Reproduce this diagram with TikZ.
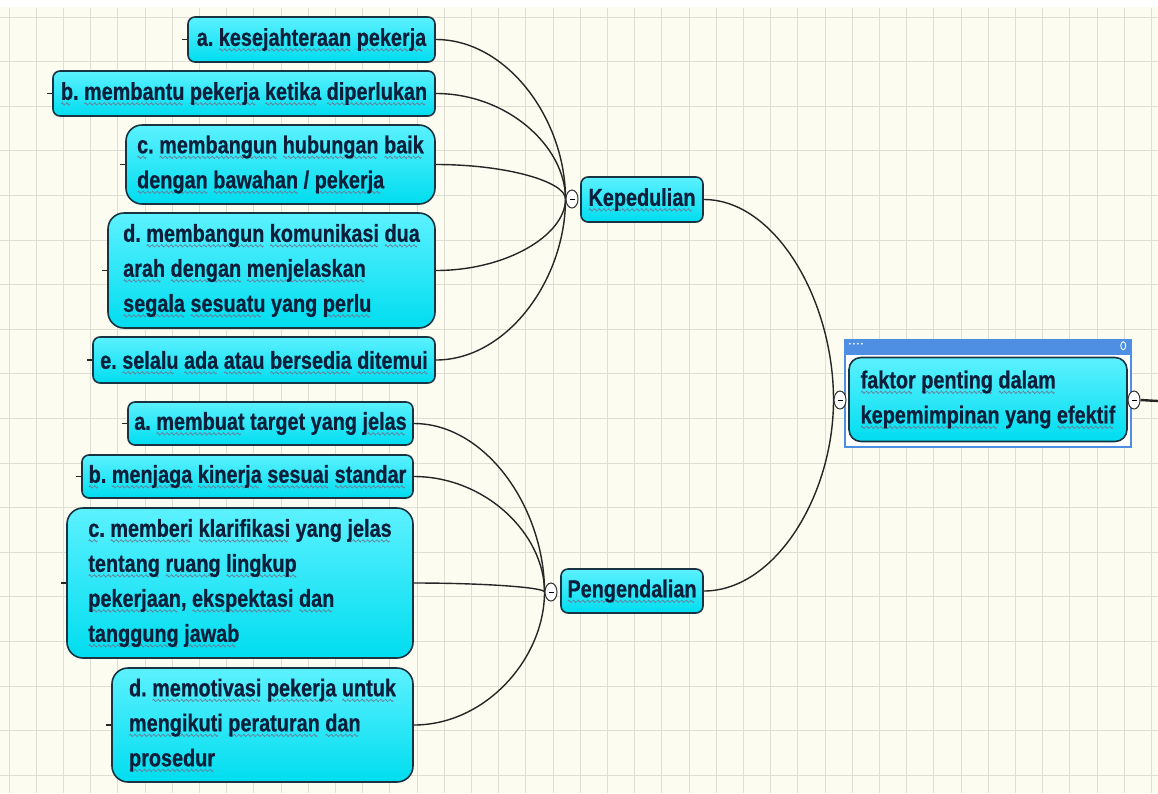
\documentclass[tikz,border=0pt]{standalone}
\usepackage{fontspec}
\usetikzlibrary{calc,shapes.geometric}
\newfontfamily\mapfont{Liberation Sans}[FakeStretch=0.81,FakeBold=0.6]
\definecolor{paper}{HTML}{FCFCF0}
\definecolor{gridline}{HTML}{DEDED2}
\definecolor{boxedge}{HTML}{183443}
\definecolor{boxtop}{HTML}{5CF1FF}
\definecolor{boxbot}{HTML}{00DDEF}
\definecolor{ink}{HTML}{0B1E3A}
\definecolor{sqcol}{HTML}{6A7B95}
\definecolor{selblue}{HTML}{4F8FE3}
% spell-check style wavy underline, built from a repeated wave piece
\newsavebox\wavebox
\newcommand\sq[1]{\setbox0\hbox{#1}\rlap{\raisebox{-6pt}[0pt][0pt]{\leaders\copy\wavebox\hskip\wd0}}\box0\relax}
% curved link from a topic's right side into a knob
\newcommand\branch[2]{\draw[conn] let \p1=(#1.east), \p2=(#2.west) in
  (\p1) .. controls (\x1+0.55*\x2-0.55*\x1, \y1) and (\x2, 0.5*\y1+0.5*\y2) .. (\p2);}
\pgfdeclarelayer{grid}
\pgfdeclarelayer{links}
\pgfsetlayers{grid,links,main}
\tikzset{
  topic/.style={draw=boxedge, line width=1.6pt, rounded corners=7pt,
    top color=boxtop, bottom color=boxbot, text=ink, align=left, inner sep=0pt,
    font=\mapfont\bfseries\fontsize{24.5}{35}\selectfont\frenchspacing},
  tall/.style={rounded corners=16pt},
  knob/.style={ellipse, draw=black!80, fill=white, line width=1pt,
    minimum width=12pt, minimum height=18pt, inner sep=0pt},
  conn/.style={draw=black!85, line width=1.4pt},
}
\newcommand\knob[3]{\node[knob] (#1) at (#2,#3) {};
  \draw[line width=1pt] ($(#1.center)+(-2.5,0)$) -- ($(#1.center)+(2.5,0)$);}
\begin{document}
\sbox\wavebox{\begin{pgfpicture}\pgfsetlinewidth{0.7pt}\pgfsetstrokecolor{sqcol}%
  \pgfpathmoveto{\pgfpoint{0pt}{0pt}}%
  \pgfpathcurveto{\pgfpoint{0.5pt}{1.6pt}}{\pgfpoint{1.5pt}{1.6pt}}{\pgfpoint{2pt}{0pt}}%
  \pgfpathcurveto{\pgfpoint{2.5pt}{-1.6pt}}{\pgfpoint{3.5pt}{-1.6pt}}{\pgfpoint{4pt}{0pt}}%
  \pgfusepath{stroke}\end{pgfpicture}}%
\begin{tikzpicture}[x=1pt,y=-1pt]
\useasboundingbox (0,0) rectangle (1158,793);
\begin{pgfonlayer}{grid}
  \fill[paper] (0,0) rectangle (1158,793);
  \foreach \gx in {9,36.2,...,1158} \draw[gridline, line width=0.9pt] (\gx,8) -- (\gx,793);
  \foreach \gy in {17,61.6,...,793} \draw[gridline, line width=0.9pt] (0,\gy) -- (1158,\gy);
  \fill[white] (0,0) rectangle (1158,7);
\end{pgfonlayer}

% Kepedulian branch
\node[topic, minimum width=247, minimum height=45] (k1) at (311.5,39.5)
  {a. \sq{kesejahteraan} \sq{pekerja}};
\node[topic, minimum width=382, minimum height=45] (k2) at (244,93.5)
  {\sq{b}. \sq{membantu} \sq{pekerja} \sq{ketika} \sq{diperlukan}};
\node[topic, tall, minimum width=309, minimum height=79] (k3) at (280.5,164.5)
  {\sq{c}. \sq{membangun} \sq{hubungan} \sq{baik}\\ \sq{dengan} \sq{bawahan} / \sq{pekerja}};
\node[topic, tall, minimum width=327, minimum height=115] (k4) at (271.5,270.5)
  {d. \sq{membangun} \sq{komunikasi} \sq{dua}\\ \sq{arah} \sq{dengan} \sq{menjelaskan}\\ \sq{segala} \sq{sesuatu} yang \sq{perlu}};
\node[topic, minimum width=342, minimum height=46] (k5) at (264,360)
  {e. \sq{selalu} \sq{ada} \sq{atau} \sq{bersedia} \sq{ditemui}};
\node[topic, minimum width=122, minimum height=45] (kep) at (642,199.5) {\sq{Kepedulian}};

% Pengendalian branch
\node[topic, minimum width=285, minimum height=43] (p1) at (270.5,423.5)
  {a. \sq{membuat} target yang \sq{jelas}};
\node[topic, minimum width=331, minimum height=43] (p2) at (247.5,476.5)
  {\sq{b}. \sq{menjaga} \sq{kinerja} \sq{sesuai} \sq{standar}};
\node[topic, tall, minimum width=346, minimum height=150] (p3) at (240,583)
  {\sq{c}. \sq{memberi} \sq{klarifikasi} yang \sq{jelas}\\ \sq{tentang} \sq{ruang} \sq{lingkup}\\ \sq{pekerjaan}, \sq{ekspektasi} \sq{dan}\\ \sq{tanggung} \sq{jawab}};
\node[topic, tall, minimum width=301, minimum height=114] (p4) at (262.5,725)
  {d. \sq{memotivasi} \sq{pekerja} \sq{untuk}\\ \sq{mengikuti} \sq{peraturan} \sq{dan}\\ \sq{prosedur}};
\node[topic, minimum width=142, minimum height=44] (pen) at (632,591) {\sq{Pengendalian}};

% central topic inside its selection frame
\node[draw=selblue, fill=white, line width=2.5pt, minimum width=286, minimum height=107, inner sep=0pt] (sel) at (988,393.5) {};
\fill[selblue] (sel.north west) rectangle ($(sel.north east)+(0,16)$);
\foreach \i in {0,...,3} \fill[white] ($(sel.north west)+(6+4*\i,5)$) circle (1pt);
\draw[white, line width=0.9pt] ($(sel.north east)+(-9,7)$) ellipse (2.5 and 4);
\node[topic, tall, rounded corners=12pt, minimum width=278, minimum height=84] (root) at (988,399.5)
  {\sq{faktor} \sq{penting} \sq{dalam}\\ \sq{kepemimpinan} yang \sq{efektif}};

% knobs
\knob{kk}{572}{199}
\knob{kp}{551}{592}
\knob{kr}{840}{400}
\knob{ko}{1134}{400}
\coordinate (exit) at (1158,401);

\begin{pgfonlayer}{links}
  \foreach \nd in {k1,k2,k3,k4,k5} {\branch{\nd}{kk} \draw[conn] (\nd.west) -- ++(-5,0);}
  \foreach \nd in {p1,p2,p3,p4} {\branch{\nd}{kp} \draw[conn] (\nd.west) -- ++(-5,0);}
  \branch{kep}{kr}
  \branch{pen}{kr}
  \draw[conn, line width=2.4pt] (ko.east) -- (exit);
\end{pgfonlayer}
\end{tikzpicture}
\end{document}
